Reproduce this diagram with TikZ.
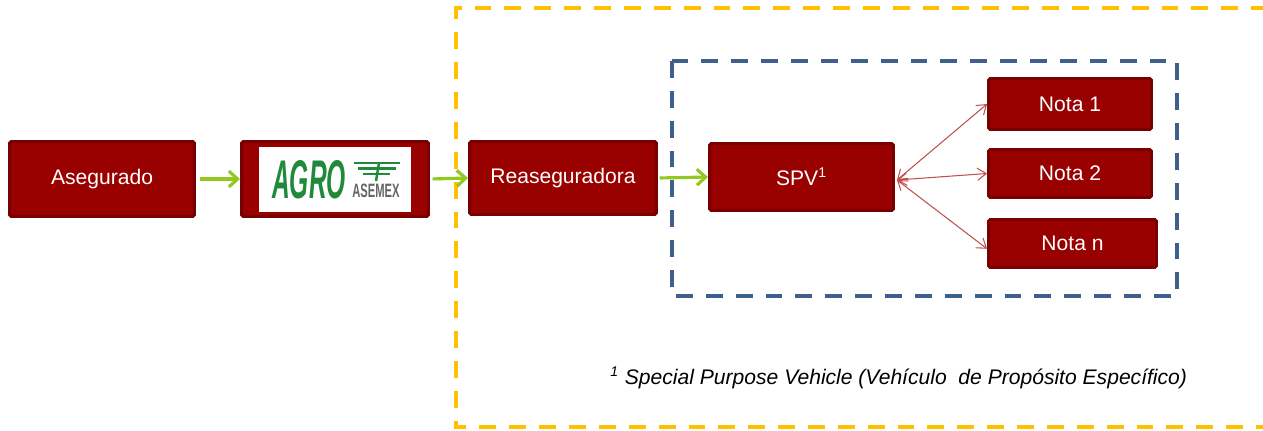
\documentclass[tikz,border=0pt]{standalone}
\usepackage{fontspec}
\setmainfont{Liberation Sans}
\usetikzlibrary{arrows.meta}
\definecolor{boxred}{HTML}{990000}
\definecolor{boxline}{HTML}{770000}
\definecolor{arrgreen}{HTML}{92C820}
\definecolor{arrred}{HTML}{C0504D}
\definecolor{gold}{HTML}{FFC000}
\definecolor{steel}{HTML}{3F5F8C}
\definecolor{logogreen}{HTML}{1E8A3A}
\tikzset{
  box/.style = {rectangle, fill=boxred, draw=boxline, line width=1.7pt, rounded corners=1pt,
                text=white, font=\fontsize{12}{14}\selectfont, inner sep=0pt},
  flow/.style = {draw=arrgreen, line width=1.8pt, -{Straight Barb[length=5pt,width=9pt]}},
  link/.style = {draw=arrred, line width=0.6pt, {Straight Barb[length=5pt,width=7pt]}-{Straight Barb[length=5pt,width=7pt]}},
  frame/.style = {line width=2.3pt, dash pattern=on 9.6pt off 7.4pt}
}
\begin{document}
\begin{tikzpicture}[x=0.02cm, y=-0.02cm]
\useasboundingbox (0,0) rectangle (1263,430);

% frames
\draw[frame, draw=gold] (1268,8) -- (456,8) -- (456,427) -- (1268,427);
\draw[frame, draw=steel] (672,61) rectangle (1177,296);

% boxes
\node[box, minimum width=3.7cm, minimum height=1.5cm] (aseg) at (102,179) {Asegurado};
\node[box, minimum width=3.74cm, minimum height=1.5cm] (agro) at (335,179) {};
\node[box, minimum width=3.74cm, minimum height=1.46cm] (rease) at (563,178) {Reaseguradora};
\node[box, minimum width=3.68cm, minimum height=1.34cm] (spv) at (801.5,177) {SPV\textsuperscript{1}};
\node[box, minimum width=3.26cm, minimum height=1.02cm] (nota1) at (1070,104) {Nota 1};
\node[box, minimum width=3.26cm, minimum height=0.96cm] (nota2) at (1070,173.5) {Nota 2};
\node[box, minimum width=3.36cm, minimum height=0.96cm] (notan) at (1072.5,243.5) {Nota n};

% logo
\fill[white] (259,147) rectangle (411,212);
\node[text=logogreen, font=\fontsize{31}{31}\selectfont\bfseries\itshape, xscale=0.45, inner sep=0pt] (agrotxt) at (309,180) {AGRO};
\node[text=gray!80!black, font=\fontsize{11}{11}\selectfont\bfseries, xscale=0.58, inner sep=0pt] (asemex) at (376,191) {ASEMEX};
\draw[logogreen, line width=1.6pt] (354,163) -- (400,163);
\draw[logogreen, line width=1.6pt] (358,168.5) -- (396,168.5);
\draw[logogreen, line width=1.6pt] (363,174) -- (390,174);
\draw[logogreen, line width=1.4pt] (379,163) -- (376,181);

% connectors
\draw[flow, shorten <=2.3pt] (aseg.east) -- (agro.west);
\draw[flow, shorten <=1.5pt] (agro.east) -- (rease.west);
\draw[flow, shorten <=1pt] (rease.east) -- (spv.west);
\coordinate (hub) at (897,180);
\draw[link] (hub) -- (nota1.west);
\draw[link] (hub) -- (nota2.west);
\draw[link] (hub) -- ([yshift=-3]notan.west);

\node[anchor=west, font=\fontsize{12}{14}\selectfont\itshape, inner sep=0pt] (fn) at (610,378)
  {\textsuperscript{1} Special Purpose Vehicle (Vehículo\ \ de Propósito Específico)};
\end{tikzpicture}
\end{document}
